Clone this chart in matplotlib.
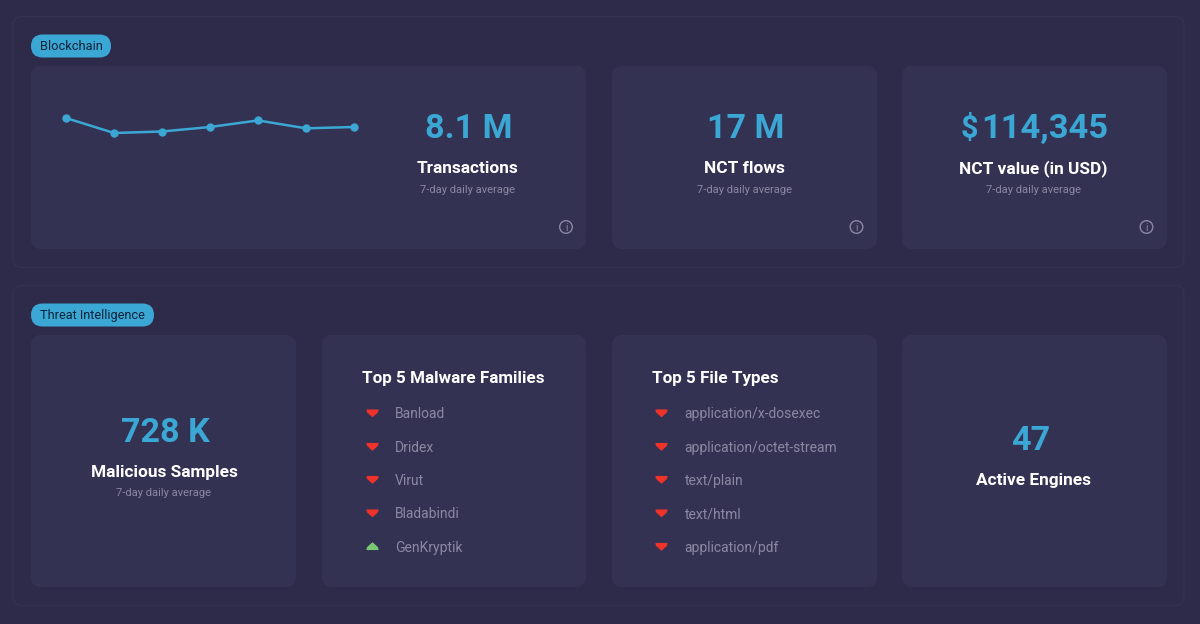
import matplotlib
matplotlib.use("Agg")
import matplotlib.pyplot as plt
from matplotlib.patches import FancyBboxPatch, Circle, Polygon

# Data
days = [1, 2, 3, 4, 5, 6, 7]
transactions_m = [8.9, 8.1, 8.18, 8.42, 8.77, 8.35, 8.42]
malware_families = ["Banload", "Dridex", "Virut", "Bladabindi", "GenKryptik"]
malware_trend = ["down", "down", "down", "down", "up"]
file_types = ["application/x-dosexec", "application/octet-stream", "text/plain", "text/html", "application/pdf"]
file_trend = ["down", "down", "down", "down", "down"]

BG = "#2e2a49"
CARD = "#343252"
EDGE = "#34304f"
ACCENT = "#3ba7d4"
GREY = "#8a88a3"
WHITE = "#ffffff"
RED = "#f0332a"
GREEN = "#79c873"
PILLTEXT = "#0e2238"

plt.rcParams["font.family"] = ["Roboto", "DejaVu Sans"]
fig = plt.figure(figsize=(12, 6.24), dpi=100, facecolor=BG)
ax = fig.add_axes([0, 0, 1, 1])
ax.set_xlim(0, 1200)
ax.set_ylim(624, 0)
ax.axis("off")


def box(x0, y0, x1, y1, r, fc, ec="none", lw=0, z=1):
    ax.add_patch(FancyBboxPatch((x0 + r, y0 + r), x1 - x0 - 2 * r, y1 - y0 - 2 * r,
                                boxstyle=f"round,pad={r},rounding_size={r}",
                                fc=fc, ec=ec, lw=lw, zorder=z))


def label(x, y, s, size, color, weight="normal", ha="center"):
    ax.text(x, y, s, fontsize=size, color=color, fontweight=weight, ha=ha, va="baseline", zorder=5)


def info(x, y):
    ax.add_patch(Circle((x, y), 6.3, fc="none", ec=GREY, lw=1.0, zorder=5))
    ax.text(x, y + 3.7, "i", fontsize=7.2, color=GREY, ha="center", va="baseline", zorder=6)


def marker(x, y, kind):
    if kind == "down":
        pts = [(x - 5.5, y - 3), (x + 5.5, y - 3), (x + 5, y - 1), (x, y + 3.6), (x - 5, y - 1)]
        col = RED
    else:
        pts = [(x - 5.5, y + 3), (x + 5.5, y + 3), (x + 5, y + 1), (x, y - 3.6), (x - 5, y + 1)]
        col = GREEN
    ax.add_patch(Polygon(pts, closed=True, fc=col, ec=col, lw=0.8, joinstyle="round", zorder=5))


# Section panels
box(13, 16.5, 1184, 267.5, 9, BG, EDGE, 1.0)
box(13, 285.5, 1184, 605.5, 9, BG, EDGE, 1.0)

# Pills
box(31, 34.5, 111, 57.5, 11.5, ACCENT, z=3)
label(71, 50, "Blockchain", 9.3, PILLTEXT)
box(31, 303.5, 154, 326.5, 11.5, ACCENT, z=3)
label(92.5, 319, "Threat Intelligence", 9.2, PILLTEXT)

# Cards
cards = [(31, 66, 586, 249), (612, 66, 877, 249), (902, 66, 1167, 249),
         (31, 335, 296, 587), (322, 335, 586, 587), (612, 335, 877, 587), (902, 335, 1167, 587)]
for c in cards:
    box(*c, 10, CARD, z=2)

# Stats, top row
for cx, big, title in [(468.5, "8.1 M", "Transactions"), (745.5, "17 M", "NCT flows"),
                       (1034.5, "$114,345", "NCT value (in USD)")]:
    if big.startswith("$"):
        label(969.5, 138, "$", 22, ACCENT, "bold")
        label(1044.5, 138.5, big[1:], 24.8, ACCENT, "bold")
    else:
        label(cx, 138.5, big, 24.6, ACCENT, "bold")
    label(cx - 1, 173, title, 12.4, WHITE, "bold")
    label(cx - 1, 193, "7-day daily average", 8, GREY)
for x in (566, 856.5, 1146.5):
    info(x, 227)

# Bottom row stats
label(165, 441.5, "728 K", 24.6, ACCENT, "bold")
label(164, 477, "Malicious Samples", 12.4, WHITE, "bold")
label(164, 496, "7-day daily average", 8, GREY)
label(1031, 450.5, "47", 24.6, ACCENT, "bold")
label(1034, 485, "Active Engines", 12.4, WHITE, "bold")

# Lists
rows = [413.5, 447, 480, 513.5, 547]
label(362.5, 383, "Top 5 Malware Families", 12.25, WHITE, "bold", ha="left")
for y, name, t in zip(rows, malware_families, malware_trend):
    marker(372.5, y - 0.5, t)
    label(395, y + 4.7, name, 10, GREY, ha="left")
label(652, 383, "Top 5 File Types", 12.25, WHITE, "bold", ha="left")
for y, name, t in zip(rows, file_types, file_trend):
    marker(661.5, y - 0.5, t)
    label(684.5, y + 4.7, name, 10, GREY, ha="left")

# Sparkline: axes spans x 66..354, y 100..220 px
spark = fig.add_axes([66 / 1200, 1 - 220 / 624, 288 / 1200, 120 / 624], facecolor="none", zorder=5)
spark.plot(days, transactions_m, color=ACCENT, lw=1.8, marker="o", ms=5, mec=ACCENT, mfc=ACCENT, clip_on=False)
spark.set_xlim(1, 7)
spark.set_ylim(3.46, 9.86)
spark.axis("off")

fig.savefig("out.png", dpi=100, facecolor=BG)
